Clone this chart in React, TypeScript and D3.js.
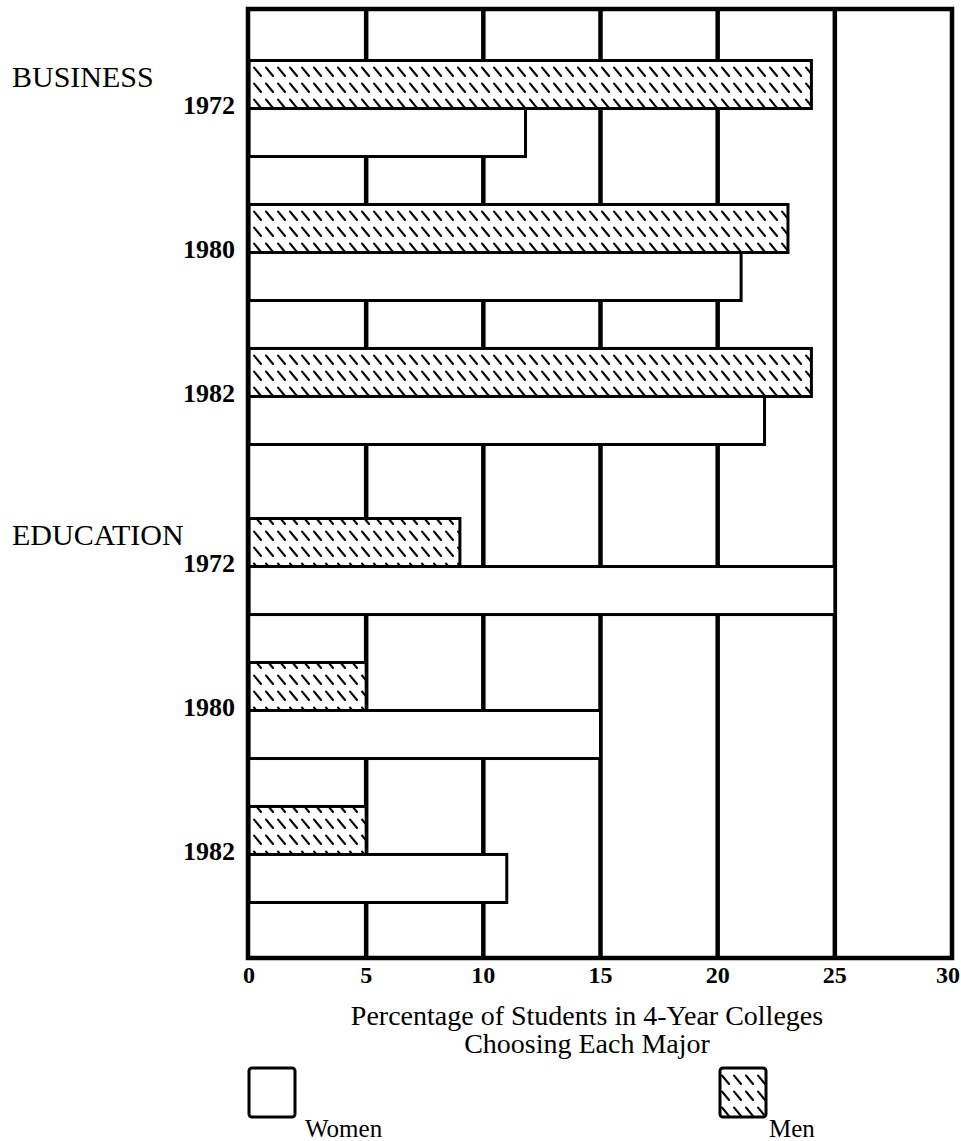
import React, { useRef, useEffect } from 'react';
import * as d3 from 'd3';

const categories = ['BUSINESS', 'EDUCATION'];
const years = ['1972', '1980', '1982'];
const businessMen = [24, 23, 24];
const businessWomen = [11.8, 21, 22];
const educationMen = [9, 5, 5];
const educationWomen = [25, 15, 11];
const xTicks = [0, 5, 10, 15, 20, 25, 30];

const menByCat = [businessMen, educationMen];
const womenByCat = [businessWomen, educationWomen];

const App = () => {
  const ref = useRef(null);

  useEffect(() => {
    const width = 961;
    const height = 1141;
    const left = 249, right = 952, top = 9, bottom = 958;
    const serif = 'Liberation Serif, serif';

    const svg = d3.select(ref.current).attr('width', width).attr('height', height);
    svg.selectAll('*').remove();

    const defs = svg.append('defs');
    const pat = defs.append('pattern')
      .attr('id', 'hatch')
      .attr('patternUnits', 'userSpaceOnUse')
      .attr('width', 12)
      .attr('height', 16);
    pat.append('rect').attr('width', 12).attr('height', 16).attr('fill', 'white');
    pat.append('line')
      .attr('x1', 2).attr('y1', 3.5).attr('x2', 9).attr('y2', 12)
      .attr('stroke', 'black').attr('stroke-width', 2).attr('stroke-linecap', 'round');

    const x = d3.scaleLinear().domain([0, 30]).range([left, right]);

    const yCat = d3.scaleBand().domain(categories).range([23.5, 939.5]).paddingInner(0).paddingOuter(0);
    const yYear = d3.scaleBand().domain(years).range([0, yCat.bandwidth()])
      .paddingInner(0.333).paddingOuter(0.257);
    const ySex = d3.scaleBand().domain(['men', 'women']).range([0, yYear.bandwidth()]);

    // gridlines behind the bars
    svg.append('g')
      .selectAll('line')
      .data(xTicks.filter(t => t > 0 && t < 30))
      .enter().append('line')
      .attr('x1', d => x(d)).attr('x2', d => x(d))
      .attr('y1', top).attr('y2', bottom)
      .attr('stroke', 'black').attr('stroke-width', 4.5);

    const rows = [];
    categories.forEach((c, ci) => {
      years.forEach((yr, yi) => {
        rows.push({ cat: c, year: yr, men: menByCat[ci][yi], women: womenByCat[ci][yi] });
      });
    });

    const groupTop = d => yCat(d.cat) + yYear(d.year);

    const bars = svg.append('g');
    bars.selectAll('rect.men')
      .data(rows)
      .enter().append('rect')
      .attr('class', 'men')
      .attr('x', x(0))
      .attr('y', d => groupTop(d) + ySex('men'))
      .attr('width', d => x(d.men) - x(0))
      .attr('height', ySex.bandwidth())
      .attr('fill', 'url(#hatch)')
      .attr('stroke', 'black').attr('stroke-width', 3);

    bars.selectAll('rect.women')
      .data(rows)
      .enter().append('rect')
      .attr('class', 'women')
      .attr('x', x(0))
      .attr('y', d => groupTop(d) + ySex('women'))
      .attr('width', d => x(d.women) - x(0))
      .attr('height', ySex.bandwidth())
      .attr('fill', 'white')
      .attr('stroke', 'black').attr('stroke-width', 3);

    // frame
    svg.append('rect')
      .attr('x', left - 1).attr('y', top)
      .attr('width', right - left + 1).attr('height', bottom - top)
      .attr('fill', 'none').attr('stroke', 'black').attr('stroke-width', 4.5);

    // year labels
    svg.append('g')
      .selectAll('text')
      .data(rows)
      .enter().append('text')
      .attr('x', 235)
      .attr('y', d => groupTop(d) + ySex('women') - 4)
      .attr('dy', '0.35em')
      .attr('text-anchor', 'end')
      .attr('font-family', serif)
      .attr('font-weight', 'bold')
      .attr('font-size', 26)
      .text(d => d.year);

    // category labels
    svg.append('g')
      .selectAll('text')
      .data(categories)
      .enter().append('text')
      .attr('x', 12)
      .attr('y', d => yCat(d) + yYear(years[0]) + 26)
      .attr('font-family', serif)
      .attr('font-size', 30)
      .text(d => d);

    // x tick labels (last one sits against the page edge)
    const lastTick = xTicks[xTicks.length - 1];
    svg.append('g')
      .selectAll('text')
      .data(xTicks)
      .enter().append('text')
      .attr('x', d => d === lastTick ? width - 1 : x(d))
      .attr('y', 983)
      .attr('text-anchor', d => d === lastTick ? 'end' : 'middle')
      .attr('font-family', serif)
      .attr('font-weight', 'bold')
      .attr('font-size', 24)
      .text(d => d);

    const title = svg.append('text')
      .attr('text-anchor', 'middle')
      .attr('font-family', serif)
      .attr('font-size', 28);
    title.append('tspan').attr('x', 587).attr('y', 1025).text('Percentage of Students in 4-Year Colleges');
    title.append('tspan').attr('x', 587).attr('y', 1053).text('Choosing Each Major');

    // legend
    const legend = [
      { label: 'Women', fill: 'white', x: 249, tx: 305 },
      { label: 'Men', fill: 'url(#hatch)', x: 720, tx: 769 }
    ];
    const lg = svg.append('g');
    lg.selectAll('rect')
      .data(legend)
      .enter().append('rect')
      .attr('x', d => d.x).attr('y', 1068)
      .attr('width', 46).attr('height', 49)
      .attr('rx', 3)
      .attr('fill', d => d.fill)
      .attr('stroke', 'black').attr('stroke-width', 3);
    lg.selectAll('text')
      .data(legend)
      .enter().append('text')
      .attr('x', d => d.tx).attr('y', 1137)
      .attr('font-family', serif)
      .attr('font-size', 25)
      .text(d => d.label);
  }, []);

  return <svg ref={ref} style={{ position: 'absolute', left: 0, top: 0, display: 'block' }} />;
};

export default App;
